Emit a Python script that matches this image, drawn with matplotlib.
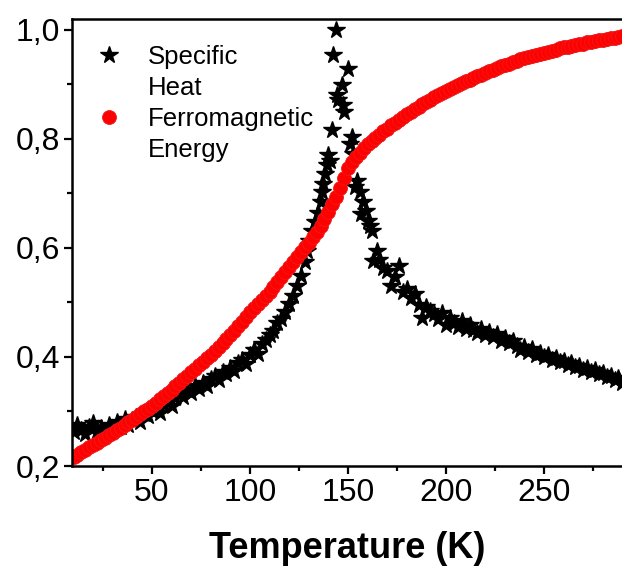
import matplotlib
matplotlib.use("Agg")
import matplotlib.pyplot as plt
from matplotlib.lines import Line2D
from matplotlib.ticker import MultipleLocator, FuncFormatter

plt.rcParams['font.family'] = ['Liberation Sans', 'DejaVu Sans']

# Ferromagnetic energy (red), T = 10..290 K step 2
energy_T = list(range(10, 291, 2))
energy_val = [
    0.216, 0.220, 0.225, 0.229, 0.234, 0.238, 0.243, 0.247, 0.252, 0.256,
    0.261, 0.266, 0.270, 0.275, 0.280, 0.285, 0.290, 0.295, 0.300, 0.305,
    0.310, 0.316, 0.322, 0.328, 0.334, 0.340, 0.346, 0.353, 0.359, 0.366,
    0.372, 0.378, 0.385, 0.391, 0.398, 0.404, 0.411, 0.418, 0.425, 0.433,
    0.440, 0.448, 0.457, 0.465, 0.474, 0.482, 0.490, 0.497, 0.505, 0.512,
    0.520, 0.529, 0.538, 0.547, 0.556, 0.565, 0.574, 0.583, 0.592, 0.601,
    0.610, 0.620, 0.630, 0.641, 0.653, 0.666, 0.681, 0.694, 0.710, 0.728,
    0.746, 0.757, 0.766, 0.775, 0.783, 0.790, 0.796, 0.802, 0.808, 0.814,
    0.819, 0.825, 0.830, 0.835, 0.840, 0.845, 0.850, 0.855, 0.859, 0.864,
    0.868, 0.872, 0.876, 0.880, 0.884, 0.888, 0.892, 0.895, 0.899, 0.902,
    0.906, 0.909, 0.912, 0.915, 0.918, 0.921, 0.924, 0.927, 0.930, 0.933,
    0.936, 0.938, 0.941, 0.943, 0.946, 0.948, 0.950, 0.952, 0.954, 0.956,
    0.958, 0.960, 0.962, 0.964, 0.966, 0.968, 0.969, 0.971, 0.972, 0.974,
    0.975, 0.977, 0.978, 0.979, 0.981, 0.982, 0.983, 0.985, 0.986, 0.987,
    0.988,
]

# Specific heat (black stars)
heat_T = (list(range(10, 127, 2)) +
          [128, 129, 130, 131.5, 133, 134.8, 136, 136.6, 137.5, 138.3, 139.2,
           140, 140.8, 141.7, 142.5, 143.9, 144.2, 145, 146.8, 147.6, 148.2,
           150.2, 151, 151.9, 152.6, 153.6, 154.5, 156.1, 156.8, 157.8, 159,
           160.4, 161.2, 162.1, 163, 164.6, 166, 168] +
          list(range(170, 291, 2)))
heat_val = [
    0.262, 0.275, 0.266, 0.258, 0.272, 0.278, 0.264, 0.270, 0.260, 0.276,
    0.268, 0.281, 0.272, 0.286, 0.276, 0.284, 0.290, 0.281, 0.296, 0.291,
    0.300, 0.307, 0.298, 0.312, 0.318, 0.310, 0.325, 0.333, 0.326, 0.340,
    0.334, 0.346, 0.341, 0.353, 0.347, 0.360, 0.366, 0.358, 0.372, 0.368,
    0.380, 0.374, 0.389, 0.395, 0.388, 0.404, 0.412, 0.405, 0.424, 0.432,
    0.441, 0.448, 0.462, 0.470, 0.483, 0.498, 0.512, 0.530, 0.548,
    # peak region
    0.575, 0.594, 0.612, 0.631, 0.648, 0.665, 0.685, 0.702, 0.718, 0.736, 0.752,
    0.770, 0.760, 0.816, 0.954, 1.000, 0.880, 0.872, 0.899, 0.862, 0.849,
    0.929, 0.791, 0.803, 0.773, 0.711, 0.722, 0.702, 0.662, 0.684, 0.668,
    0.650, 0.640, 0.631, 0.576, 0.594, 0.578, 0.564,
    # tail
    0.558, 0.530, 0.546, 0.567, 0.520, 0.524, 0.508, 0.515, 0.496, 0.471,
    0.492, 0.484, 0.478, 0.470, 0.480, 0.458, 0.472, 0.462, 0.455, 0.466,
    0.452, 0.458, 0.450, 0.444, 0.452, 0.441, 0.446, 0.436, 0.442, 0.430,
    0.434, 0.425, 0.430, 0.420, 0.412, 0.418, 0.410, 0.414, 0.404, 0.408,
    0.400, 0.404, 0.395, 0.398, 0.390, 0.393, 0.386, 0.389, 0.381, 0.384,
    0.377, 0.380, 0.372, 0.376, 0.368, 0.371, 0.364, 0.366, 0.358, 0.361,
    0.352,
]

label_lines = [["Specific", "Heat"], ["Ferromagnetic", "Energy"]]

fig = plt.figure(figsize=(6.22, 5.69), dpi=100)
ax = fig.add_axes([72/622, 103/569, 1 - 72/622, (466-19)/569])

h1, = ax.plot(heat_T, heat_val, linestyle='none', marker='*', markersize=13,
              color='black')
h2, = ax.plot(energy_T, energy_val, linestyle='none', marker='o', markersize=10,
              markerfacecolor='#ff0000', markeredgecolor='#f01818',
              markeredgewidth=0.6)

ax.set_xlim(9.2, 289.8)
ax.set_ylim(0.2, 1.02)

ax.xaxis.set_major_locator(MultipleLocator(50))
ax.xaxis.set_minor_locator(MultipleLocator(25))
ax.yaxis.set_major_locator(MultipleLocator(0.2))
ax.yaxis.set_minor_locator(MultipleLocator(0.1))
ax.yaxis.set_major_formatter(FuncFormatter(lambda v, p: f"{v:.1f}".replace('.', ',')))
ax.xaxis.set_major_formatter(FuncFormatter(lambda v, p: f"{v:.0f}"))

ax.tick_params(which='major', direction='out', length=5.5, width=1.6,
               labelsize=23, pad=3)
ax.tick_params(which='minor', direction='out', length=3.5, width=1.6)
ax.tick_params(axis='x', which='both', top=False)
ax.tick_params(axis='y', which='both', right=False)

for s in ['left', 'bottom', 'top']:
    ax.spines[s].set_linewidth(1.8)
ax.spines['right'].set_visible(False)

ax.set_xlabel("Temperature (K)", fontsize=26, fontweight='bold', labelpad=17)

blank = Line2D([], [], linestyle='none', marker=None)
handles = [h1, blank, h2, blank]
texts = [label_lines[0][0], label_lines[0][1], label_lines[1][0], label_lines[1][1]]
leg = ax.legend(handles, texts, loc='upper left', bbox_to_anchor=(0.0, 1.0),
                frameon=False, fontsize=18.5, handlelength=0.9,
                handletextpad=1.05, labelspacing=0.27, borderaxespad=0.6,
                borderpad=0.4)

fig.savefig("out.png", dpi=100)
